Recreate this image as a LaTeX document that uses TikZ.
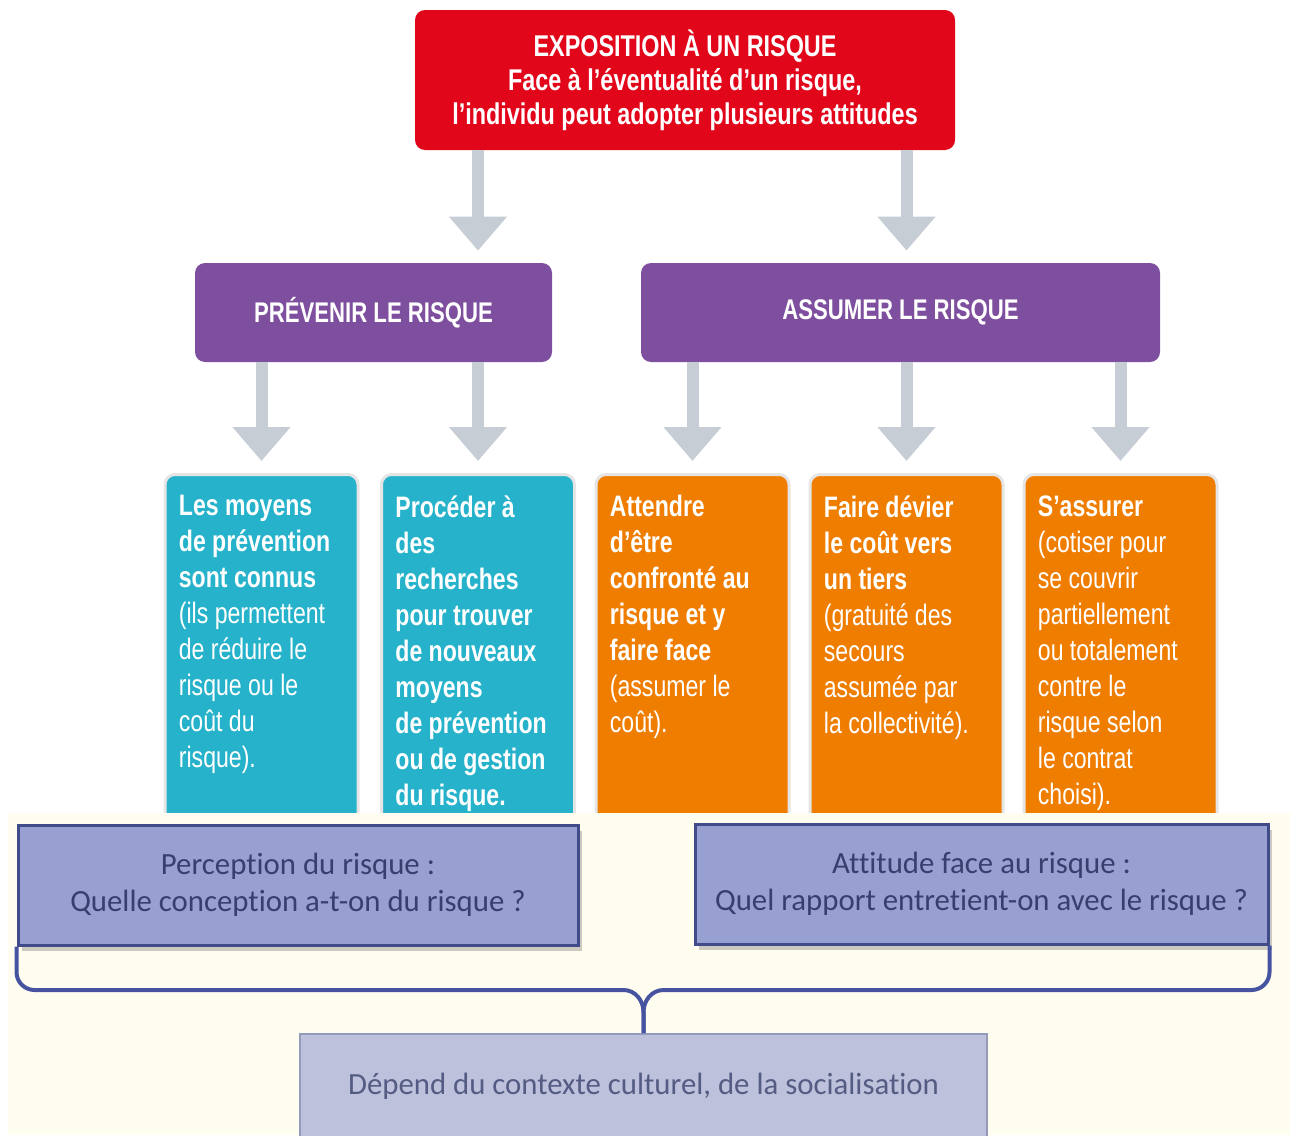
\documentclass[tikz,border=0pt]{standalone}
\usepackage{fontspec}
\setmainfont{Liberation Sans}
\newfontfamily\condfont[FakeStretch=0.78]{Liberation Sans}
\newfontfamily\calfont[Ligatures=NoCommon]{Carlito}
\usetikzlibrary{arrows.meta}
\usetikzlibrary{shadows}

\definecolor{rouge}{HTML}{E2061B}
\definecolor{violet}{HTML}{7F4F9F}
\definecolor{turquoise}{HTML}{25B2CA}
\definecolor{orangef}{HTML}{EF7D00}
\definecolor{flechegris}{HTML}{C6CDD5}
\definecolor{creme}{HTML}{FFFDF0}
\definecolor{bleuq}{HTML}{98A0D2}
\definecolor{bleubord}{HTML}{404B8A}
\definecolor{bleutexte}{HTML}{363F6E}
\definecolor{grisbleu}{HTML}{BDC1DB}
\definecolor{grisbord}{HTML}{949BBA}
\definecolor{accol}{HTML}{4653A0}

\tikzset{
  topbox/.style={fill=rouge, text=white, rounded corners=5pt, minimum width=270pt,
    minimum height=70pt, align=center, font=\condfont\bfseries\fontsize{15}{17}\selectfont},
  midbox/.style={fill=violet, text=white, rounded corners=5pt, minimum height=49.5pt,
    font=\condfont\bfseries\fontsize{14.2}{18}\selectfont},
  colbox/.style={draw=black!10, line width=1.5pt, rounded corners=5pt, anchor=north,
    minimum width=96.5pt, minimum height=185pt},
  coltext/.style={anchor=north west, inner sep=0pt, text=white, align=left,
    font=\condfont\fontsize{14.8}{18}\selectfont},
  bigarrow/.style={draw=flechegris, line width=6pt, shorten >=6pt,
    -{Triangle[width=28pt,length=17pt]}},
  questbox/.style={fill=bleuq, draw=bleubord, line width=1.5pt, text=bleutexte, align=center,
    minimum height=60pt, font=\calfont\fontsize{15.4}{18.5}\selectfont,
    drop shadow={shadow xshift=2pt, shadow yshift=-3pt, opacity=0.2, fill=black}},
  accolade/.style={draw=accol, line width=2pt},
}

\begin{document}
\begin{tikzpicture}[x=0.5pt,y=-0.5pt]
  \useasboundingbox (0,0) rectangle (1290,1135);

  \node[topbox] (risque) at (685,80) {EXPOSITION À UN RISQUE\\Face à l’éventualité d’un risque,\\l’individu peut adopter plusieurs attitudes};

  \node[midbox, minimum width=178.5pt] (prevenir) at (373.5,312.5) {PRÉVENIR LE RISQUE};
  \node[midbox, minimum width=259.5pt] (assumer) at (900.5,312.5) {ASSUMER LE RISQUE};

  \node[colbox, fill=turquoise] (col1) at (261.5,473) {};
  \node[colbox, fill=turquoise] (col2) at (478,473) {};
  \node[colbox, fill=orangef] (col3) at (692.5,473) {};
  \node[colbox, fill=orangef] (col4) at (906.5,473) {};
  \node[colbox, fill=orangef] (col5) at (1120.5,473) {};

  \node[coltext] (txt1) at ([xshift=7.5pt,yshift=-11pt]col1.north west)
    {\textbf{Les moyens}\\\textbf{de prévention}\\\textbf{sont connus}\\(ils permettent\\de réduire le\\risque ou le\\coût du\\risque).};
  \node[coltext] (txt2) at ([xshift=7.5pt,yshift=-11pt]col2.north west)
    {\textbf{Procéder à}\\\textbf{des}\\\textbf{recherches}\\\textbf{pour trouver}\\\textbf{de nouveaux}\\\textbf{moyens}\\\textbf{de prévention}\\\textbf{ou de gestion}\\\textbf{du risque.}};
  \node[coltext] (txt3) at ([xshift=7.5pt,yshift=-11pt]col3.north west)
    {\textbf{Attendre}\\\textbf{d’être}\\\textbf{confronté au}\\\textbf{risque et y}\\\textbf{faire face}\\(assumer le\\coût).};
  \node[coltext] (txt4) at ([xshift=7.5pt,yshift=-11pt]col4.north west)
    {\textbf{Faire dévier}\\\textbf{le coût vers}\\\textbf{un tiers}\\(gratuité des\\secours\\assumée par\\la collectivité).};
  \node[coltext] (txt5) at ([xshift=7.5pt,yshift=-11pt]col5.north west)
    {\textbf{S’assurer}\\(cotiser pour\\se couvrir\\partiellement\\ou totalement\\contre le\\risque selon\\le contrat\\choisi).};

  \draw[bigarrow] (risque.south -| col2.north) -- (prevenir.north -| col2.north);
  \draw[bigarrow] (risque.south -| col4.north) -- (assumer.north -| col4.north);
  \draw[bigarrow] (prevenir.south -| col1.north) -- (col1.north);
  \draw[bigarrow] (prevenir.south -| col2.north) -- (col2.north);
  \draw[bigarrow] (assumer.south -| col3.north) -- (col3.north);
  \draw[bigarrow] (assumer.south -| col4.north) -- (col4.north);
  \draw[bigarrow] (assumer.south -| col5.north) -- (col5.north);

  % partie du bas
  \fill[creme] (8,813) rectangle (1290,1135);

  \node[questbox, minimum width=280pt] (perception) at (298,885) {Perception du risque :\\Quelle conception a-t-on du risque ?};
  \node[questbox, minimum width=286.5pt] (attitude) at (981.5,884) {Attitude face au risque :\\Quel rapport entretient-on avec le risque ?};
  \node[fill=grisbleu, draw=grisbord, line width=0.8pt, anchor=north, minimum width=343.5pt,
    minimum height=52pt, text=bleutexte!85, font=\calfont\fontsize{15.4}{16}\selectfont]
    (depend) at (643.5,1033) {Dépend du contexte culturel, de la socialisation};

  \coordinate (mid) at (depend.north |- 0,990);
  \coordinate (lcorner) at (perception.south west |- mid);
  \coordinate (rcorner) at (attitude.south east |- mid);
  \draw[accolade] (perception.south west) -- ([yshift=9pt]lcorner) to[out=-90,in=180] ([xshift=9pt]lcorner)
    -- ([xshift=-10pt]mid) to[out=0,in=90] ([yshift=-11pt]mid) -- (depend.north);
  \draw[accolade] (depend.north) -- ([yshift=-11pt]mid) to[out=90,in=180] ([xshift=10pt]mid)
    -- ([xshift=-9pt]rcorner) to[out=0,in=-90] ([yshift=9pt]rcorner) -- (attitude.south east);
\end{tikzpicture}
\end{document}
